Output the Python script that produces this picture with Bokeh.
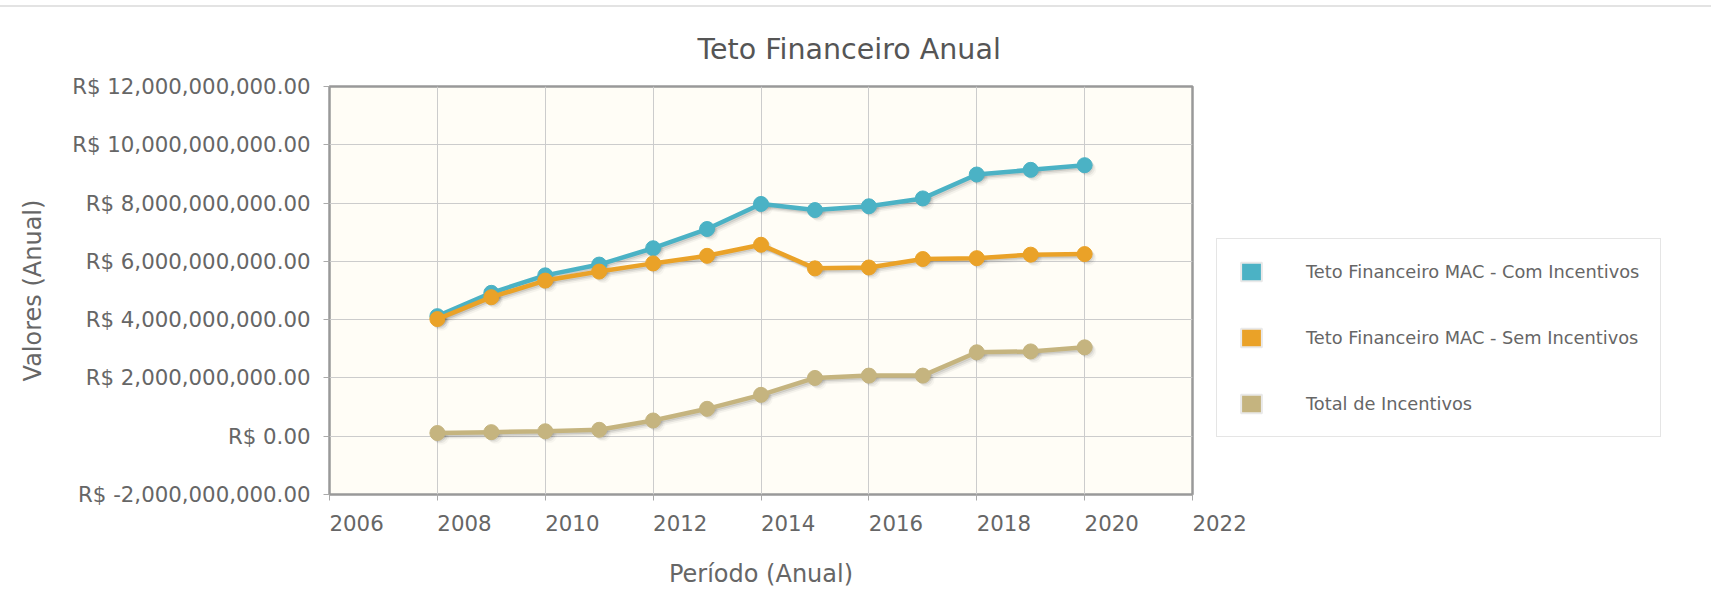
from bokeh.plotting import figure
from bokeh.models import Legend, LegendItem, CustomJSTickFormatter, FixedTicker, Range1d
from bokeh.embed import file_html
from bokeh.resources import INLINE

# ---- data ----
years = [2008, 2009, 2010, 2011, 2012, 2013, 2014, 2015, 2016, 2017, 2018, 2019, 2020]
com_incentivos = [4.12e9, 4.92e9, 5.52e9, 5.89e9, 6.45e9, 7.11e9, 7.97e9, 7.76e9, 7.89e9, 8.16e9, 8.98e9, 9.14e9, 9.30e9]
sem_incentivos = [4.02e9, 4.77e9, 5.34e9, 5.65e9, 5.93e9, 6.19e9, 6.57e9, 5.76e9, 5.79e9, 6.08e9, 6.11e9, 6.23e9, 6.25e9]
total_incentivos = [0.11e9, 0.14e9, 0.17e9, 0.22e9, 0.54e9, 0.94e9, 1.42e9, 2.00e9, 2.08e9, 2.08e9, 2.88e9, 2.91e9, 3.05e9]
series_names = ["Teto Financeiro MAC - Com Incentivos", "Teto Financeiro MAC - Sem Incentivos", "Total de Incentivos"]
series_colors = ["#4bb2c5", "#EAA228", "#c5b47f"]
x_ticks = [2006, 2008, 2010, 2012, 2014, 2016, 2018, 2020, 2022]
y_ticks = [-2e9, 0, 2e9, 4e9, 6e9, 8e9, 10e9, 12e9]

FONT = "DejaVu Sans"
FW, FH = 863, 408          # frame size in px
ML, MT, MB, MR = 329, 79, 102, 515
x0, x1 = 2006, 2022
y0, y1 = -2e9, 12e9

p = figure(frame_width=FW, frame_height=FH, output_backend="svg", toolbar_location=None,
           x_range=Range1d(x0, x1), y_range=Range1d(y0, y1),
           min_border_left=ML, min_border_right=MR, min_border_top=MT, min_border_bottom=MB,
           background_fill_color="#fffdf6", border_fill_color="white")
# thin separator line above the chart, as on the source page
p.styles = {"margin-top": "5px", "border-top": "2px solid #e3e3e3"}

p.title.text = "Teto Financeiro Anual"
p.title.text_font = FONT
p.title.text_font_size = "28.5px"
p.title.text_font_style = "normal"
p.title.text_color = "#555555"
p.title.align = "left"
p.title.offset = 368
p.title.standoff = 42

p.outline_line_color = "#999999"
p.outline_line_width = 2.5

p.xgrid.grid_line_color = "#cccccc"
p.ygrid.grid_line_color = "#cccccc"
p.xaxis.ticker = FixedTicker(ticks=x_ticks)
p.yaxis.ticker = FixedTicker(ticks=y_ticks)
p.yaxis.formatter = CustomJSTickFormatter(code="""
return 'R$ ' + tick.toLocaleString('en-US', {minimumFractionDigits: 2, maximumFractionDigits: 2});
""")
# year labels start at their tick (left aligned): pad on the left with figure spaces
p.xaxis.formatter = CustomJSTickFormatter(code="""
return '\\u2007\\u2007\\u2007\\u2007' + String(Math.round(tick));
""")

for ax in (p.xaxis, p.yaxis):
    ax.axis_line_color = None
    ax.major_tick_line_color = "#aaaaaa"
    ax.major_tick_out = 6
    ax.major_tick_in = 0
    ax.minor_tick_line_color = None
    ax.major_label_text_font = FONT
    ax.major_label_text_font_size = "21.3px"
    ax.major_label_text_color = "#666666"
    ax.axis_label_text_font = FONT
    ax.axis_label_text_font_size = "24px"
    ax.axis_label_text_font_style = "normal"
    ax.axis_label_text_color = "#666666"

p.xaxis.axis_label = "Período (Anual)"
p.yaxis.axis_label = "Valores (Anual)"
p.xaxis.major_label_standoff = 10
p.yaxis.major_label_standoff = 13
p.xaxis.axis_label_standoff = 21
p.yaxis.axis_label_standoff = 22

# pixel size in data units, for the drop shadow
xpx = (x1 - x0) / FW
ypx = (y1 - y0) / FH

legend_items = []
for name, vals, col in zip(series_names, [com_incentivos, sem_incentivos, total_incentivos], series_colors):
    for d, a in ((1.4, 0.10), (2.8, 0.07), (4.2, 0.04)):
        sx = [x + d * xpx for x in years]
        sy = [v - d * ypx for v in vals]
        p.line(sx, sy, line_color="black", line_alpha=a, line_width=4.5)
        p.scatter(sx, sy, size=15, fill_color="black", fill_alpha=a * 0.8, line_color=None)
    p.line(years, vals, line_color=col, line_width=4.5)
    p.scatter(years, vals, size=15, fill_color=col, line_color=col)
    sw = p.rect(x=years[:1], y=vals[:1], width=1, height=1, fill_color=col,
                line_color="#e9e9e9", line_width=2)
    sw.visible = False
    legend_items.append(LegendItem(label=name, renderers=[sw]))

legend = Legend(items=legend_items, location=(24, 57))
legend.label_text_font = FONT
legend.label_text_font_size = "17.8px"
legend.label_text_color = "#666666"
legend.glyph_width = 26
legend.glyph_height = 23
legend.label_height = 23
legend.label_standoff = 42
legend.spacing = 43
legend.padding = 21
legend.margin = 0
legend.border_line_color = "#cccccc"
legend.border_line_width = 1
legend.background_fill_color = "white"
legend.background_fill_alpha = 1
p.add_layout(legend, "right")

open("out.html", "w").write(file_html(p, INLINE))
